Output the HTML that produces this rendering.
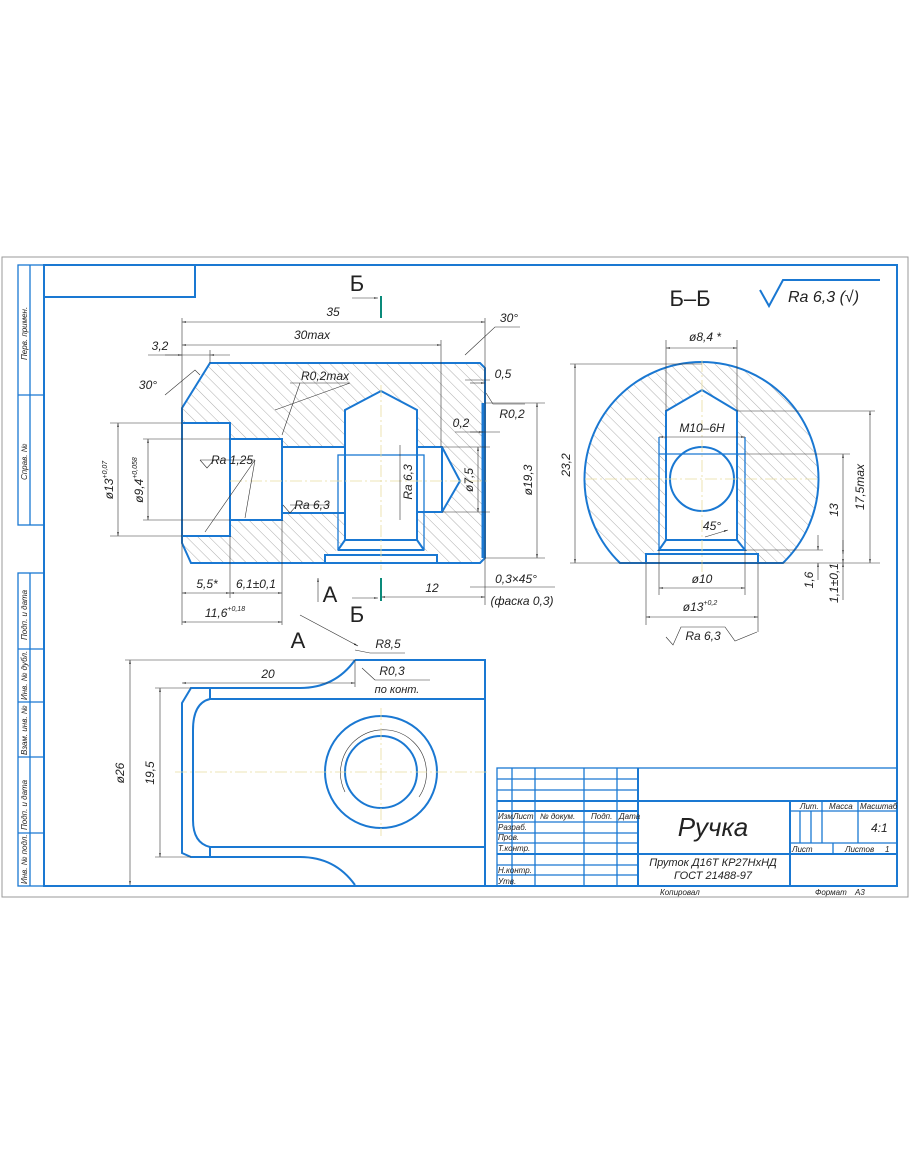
<!DOCTYPE html>
<html><head><meta charset="utf-8"><style>
html,body{margin:0;padding:0;background:#fff}
svg{display:block}
text{font-family:"Liberation Sans",sans-serif;font-style:italic;fill:#222}
.b{stroke:#1a78d2;stroke-width:2;fill:none}
.bt{stroke:#1a78d2;stroke-width:1.3;fill:none}
.t{stroke:#333;stroke-width:.6;fill:none}
.c{stroke:#e8dca0;stroke-width:.8;stroke-dasharray:12 3 2 3;fill:none}
</style></head><body>
<svg width="910" height="1155" viewBox="0 0 910 1155" xmlns="http://www.w3.org/2000/svg">
<defs>
<pattern id="h" width="8" height="8" patternUnits="userSpaceOnUse" patternTransform="rotate(-45)">
<line x1="0" y1="0" x2="0" y2="8" stroke="#777" stroke-width=".6"/></pattern>
<marker id="a" viewBox="0 0 10 10" refX="10" refY="5" markerWidth="7" markerHeight="7" orient="auto-start-reverse"><path d="M0,3 L10,5 L0,7z" fill="#222"/></marker>
</defs>
<!-- sheet -->
<rect x="2" y="257" width="906" height="640" fill="none" stroke="#999" stroke-width="1"/>
<rect x="44" y="265" width="853" height="621" class="b"/>
<polyline points="44,297 195,297 195,265" class="b"/>
<!-- left strip -->
<rect x="18" y="265" width="26" height="260" class="bt"/>
<line x1="30" y1="265" x2="30" y2="525" class="bt"/><line x1="18" y1="395" x2="44" y2="395" class="bt"/>
<rect x="18" y="573" width="26" height="313" class="bt"/>
<line x1="30" y1="573" x2="30" y2="886" class="bt"/>
<line x1="18" y1="649" x2="44" y2="649" class="bt"/><line x1="18" y1="702" x2="44" y2="702" class="bt"/>
<line x1="18" y1="757" x2="44" y2="757" class="bt"/><line x1="18" y1="833" x2="44" y2="833" class="bt"/>
<g font-size="8">
<text transform="translate(27,360) rotate(-90)">Перв. примен.</text>
<text transform="translate(27,480) rotate(-90)">Справ. №</text>
<text transform="translate(27,640) rotate(-90)">Подп. и дата</text>
<text transform="translate(27,700) rotate(-90)">Инв. № дубл.</text>
<text transform="translate(27,755) rotate(-90)">Взам. инв. №</text>
<text transform="translate(27,830) rotate(-90)">Подп. и дата</text>
<text transform="translate(27,884) rotate(-90)">Инв. № подл.</text>
</g>

<!-- MAIN VIEW -->
<path fill-rule="evenodd" fill="url(#h)" d="M210,363 L480,363 L485,368 L485,558 L480,563 L191,563 L182,543 L182,408 Z M182,423 L230,423 L230,439 L282,439 L282,447 L345,447 L345,410 L381,391 L417,410 L417,447 L442,447 L460,481 L442,512 L417,512 L417,540 L424,550 L437,555 L437,563 L325,563 L325,555 L338,550 L345,540 L345,513 L282,513 L282,520 L230,520 L230,536 L182,536 Z"/>
<path class="b" d="M210,363 L480,363 L485,368 L485,558 L480,563 L191,563 L182,543 L182,408 Z"/>
<line x1="483" y1="403" x2="483" y2="558" stroke="#1a78d2" stroke-width="3"/>
<path class="b" d="M182,423 L230,423 L230,536 L182,536 M230,439 L282,439 L282,520 L230,520 M282,447 L345,447 M282,513 L345,513 M345,540 L345,410 L381,391 L417,410 L417,540 M345,540 L417,540 M338,550 L424,550 M345,540 L338,550 M417,540 L424,550 M325,563 L325,555 L437,555 L437,563 M417,447 L442,447 L460,481 L442,512 L417,512 M442,447 L442,512"/>
<rect x="338" y="455" width="86" height="95" class="bt"/>
<line x1="230" y1="481" x2="490" y2="481" class="c"/><line x1="381" y1="385" x2="381" y2="570" class="c"/>
<!-- dims main -->
<g class="t">
<line x1="182" y1="318" x2="182" y2="625"/><line x1="485" y1="318" x2="485" y2="605"/>
<line x1="182" y1="322" x2="485" y2="322" marker-start="url(#a)" marker-end="url(#a)"/>
<line x1="441" y1="340" x2="441" y2="447"/>
<line x1="182" y1="345" x2="441" y2="345" marker-start="url(#a)" marker-end="url(#a)"/>
<line x1="210" y1="350" x2="210" y2="363"/>
<line x1="148" y1="355" x2="210" y2="355"/>
<line x1="165" y1="355" x2="182" y2="355" marker-end="url(#a)"/><line x1="230" y1="355" x2="210" y2="355" marker-end="url(#a)"/>
<path d="M165,395 L195,370 L200,375"/>
<line x1="110" y1="423" x2="182" y2="423"/><line x1="110" y1="536" x2="182" y2="536"/>
<line x1="118" y1="423" x2="118" y2="536" marker-start="url(#a)" marker-end="url(#a)"/>
<line x1="143" y1="439" x2="230" y2="439"/><line x1="143" y1="520" x2="230" y2="520"/>
<line x1="148" y1="439" x2="148" y2="520" marker-start="url(#a)" marker-end="url(#a)"/>
<line x1="230" y1="536" x2="230" y2="598"/><line x1="282" y1="520" x2="282" y2="625"/>
<line x1="182" y1="593" x2="230" y2="593" marker-start="url(#a)" marker-end="url(#a)"/>
<line x1="230" y1="593" x2="282" y2="593" marker-start="url(#a)" marker-end="url(#a)"/>
<line x1="182" y1="622" x2="282" y2="622" marker-start="url(#a)" marker-end="url(#a)"/>
<line x1="381" y1="597" x2="485" y2="597" marker-start="url(#a)" marker-end="url(#a)"/>
<line x1="485" y1="403" x2="545" y2="403"/><line x1="485" y1="558" x2="545" y2="558"/>
<line x1="537" y1="403" x2="537" y2="558" marker-start="url(#a)" marker-end="url(#a)"/>
<line x1="442" y1="447" x2="490" y2="447"/><line x1="442" y1="512" x2="490" y2="512"/>
<line x1="478" y1="447" x2="478" y2="512" marker-start="url(#a)" marker-end="url(#a)"/>
<line x1="465" y1="380" x2="490" y2="380"/><line x1="470" y1="383" x2="485" y2="383" marker-end="url(#a)"/>
<line x1="455" y1="432" x2="500" y2="432"/><line x1="470" y1="432" x2="483" y2="432" marker-end="url(#a)"/>
<path d="M465,355 L495,327 L520,327"/>
<path d="M525,404 L493,404 L486,393" />
<path d="M470,587 L490,587 L555,587"/>
<path d="M290,383 L350,383 M350,383 L275,410 M300,383 L282,435"/>
<path d="M200,460 L255,460 M255,460 L205,532 M255,460 L245,518"/>
<path d="M290,505 L330,505"/><path d="M400,520 L400,445"/>
</g>
<g font-size="12" text-anchor="middle">
<text x="333" y="316">35</text><text x="312" y="339">30max</text>
<text x="160" y="350">3,2</text><text x="148" y="389">30°</text>
<text x="509" y="322">30°</text><text x="503" y="378">0,5</text>
<text x="512" y="418">R0,2</text><text x="461" y="427">0,2</text>
<text x="325" y="380">R0,2max</text>
<text x="232" y="464">Ra 1,25</text><text x="312" y="509">Ra 6,3</text>
<text x="207" y="588">5,5*</text><text x="256" y="588">6,1±0,1</text>
<text x="225" y="617">11,6<tspan font-size="7" dy="-6">+0,18</tspan></text>
<text x="432" y="592">12</text>
<text x="516" y="583">0,3×45°</text><text x="522" y="605">(фаска 0,3)</text>
<text transform="translate(113,480) rotate(-90)">ø13<tspan font-size="7" dy="-6">+0,07</tspan></text>
<text transform="translate(143,480) rotate(-90)">ø9,4<tspan font-size="7" dy="-6">+0,058</tspan></text>
<text transform="translate(473,480) rotate(-90)">ø7,5</text>
<text transform="translate(532,480) rotate(-90)">ø19,3</text>
<text transform="translate(412,482) rotate(-90)">Ra 6,3</text>
</g>
<path d="M200,460 L207,468 L214,460" class="t"/><path d="M283,505 L290,513 L297,505" class="t"/>
<!-- section marks -->
<line x1="381" y1="296" x2="381" y2="318" stroke="#0a8a7a" stroke-width="2"/>
<line x1="352" y1="298" x2="378" y2="298" class="t" marker-end="url(#a)"/>
<line x1="381" y1="578" x2="381" y2="601" stroke="#0a8a7a" stroke-width="2"/>
<line x1="352" y1="598" x2="378" y2="598" class="t" marker-end="url(#a)"/>
<line x1="318" y1="602" x2="318" y2="578" class="t" marker-end="url(#a)"/>
<g font-size="22" font-style="normal" text-anchor="middle">
<text x="357" y="291" style="font-style:normal">Б</text><text x="357" y="622" style="font-style:normal">Б</text>
<text x="330" y="602" style="font-style:normal">А</text><text x="298" y="648" style="font-style:normal">А</text>
<text x="690" y="306" style="font-style:normal">Б–Б</text>
</g>
<!-- Ra header -->
<path d="M760,290 L769,306 L783,280 L880,280" class="b"/>
<text x="788" y="302" font-size="16">Ra 6,3 (√)</text>

<!-- SECTION B-B -->
<path fill-rule="evenodd" fill="url(#h)" d="M620,563 A117,117 0 1 1 783,563 Z M646,563 L646,554 L659,550 L666,540 L666,411 L702,390 L737,411 L737,540 L745,550 L758,554 L758,563 Z"/>
<path class="b" d="M620,563 A117,117 0 1 1 783,563 Z"/>
<path class="b" d="M646,563 L646,554 L758,554 L758,563 M659,550 L666,540 L666,411 L702,390 L737,411 L737,540 L745,550 Z M666,540 L737,540"/>
<path class="bt" d="M659,437 L659,550 M745,437 L745,550 M659,454 L745,454"/>
<circle cx="702" cy="479" r="32" class="b" fill="#fff"/>
<line x1="585" y1="479" x2="820" y2="479" class="c"/><line x1="702" y1="360" x2="702" y2="575" class="c"/>
<g class="t">
<line x1="666" y1="340" x2="666" y2="411"/><line x1="737" y1="340" x2="737" y2="411"/>
<line x1="666" y1="348" x2="737" y2="348" marker-start="url(#a)" marker-end="url(#a)"/>
<line x1="570" y1="364" x2="702" y2="364"/><line x1="570" y1="563" x2="880" y2="563"/>
<line x1="575" y1="364" x2="575" y2="563" marker-start="url(#a)" marker-end="url(#a)"/>
<line x1="659" y1="437" x2="745" y2="437" marker-start="url(#a)" marker-end="url(#a)"/>
<line x1="745" y1="454" x2="850" y2="454"/><line x1="843" y1="454" x2="843" y2="563" marker-start="url(#a)" marker-end="url(#a)"/>
<line x1="737" y1="411" x2="875" y2="411"/><line x1="870" y1="411" x2="870" y2="563" marker-start="url(#a)" marker-end="url(#a)"/>
<line x1="745" y1="550" x2="823" y2="550"/>
<line x1="818" y1="535" x2="818" y2="550" marker-end="url(#a)"/><line x1="818" y1="580" x2="818" y2="563" marker-end="url(#a)"/>
<line x1="843" y1="540" x2="843" y2="554" marker-end="url(#a)"/><line x1="843" y1="600" x2="843" y2="563" marker-end="url(#a)"/>
<line x1="659" y1="550" x2="659" y2="595"/><line x1="745" y1="550" x2="745" y2="595"/>
<line x1="659" y1="588" x2="745" y2="588" marker-start="url(#a)" marker-end="url(#a)"/>
<line x1="646" y1="563" x2="646" y2="625"/><line x1="758" y1="563" x2="758" y2="632"/>
<line x1="646" y1="617" x2="758" y2="617" marker-start="url(#a)" marker-end="url(#a)"/>
<path d="M666,637 L673,645 L681,627 L725,627 L735,641 L757,632"/>
<path d="M705,537 Q718,533 728,530" marker-end="url(#a)"/>
</g>
<g font-size="12" text-anchor="middle">
<text x="705" y="341">ø8,4 *</text><text x="702" y="432">M10–6H</text>
<text x="712" y="530">45°</text><text x="702" y="583">ø10</text>
<text x="700" y="611">ø13<tspan font-size="7" dy="-6">+0,2</tspan></text>
<text x="703" y="640">Ra 6,3</text>
<text transform="translate(570,465) rotate(-90)">23,2</text>
<text transform="translate(838,510) rotate(-90)">13</text>
<text transform="translate(864,487) rotate(-90)">17,5max</text>
<text transform="translate(813,580) rotate(-90)">1,6</text>
<text transform="translate(838,583) rotate(-90)">1,1±0,1</text>
</g>

<!-- VIEW A -->
<path class="b" d="M355,660 L485,660 L485,885 M355,660 Q335,688 300,688 L191,688 L182,703 L182,853 L191,857 L300,857 Q335,857 355,885 M210,688 L210,699 L485,699 M210,857 L210,847 L485,847 M210,699 Q193,703 193,730 L193,820 Q193,843 210,847"/>
<circle cx="381" cy="772" r="56" class="b"/><circle cx="381" cy="772" r="36" class="b"/>
<path d="M345,792 A43,43 0 1 1 419,797" class="t" stroke="#777"/>
<line x1="175" y1="772" x2="490" y2="772" class="c"/><line x1="381" y1="708" x2="381" y2="836" class="c"/>
<g class="t">
<line x1="125" y1="660" x2="355" y2="660"/><line x1="130" y1="660" x2="130" y2="885" marker-start="url(#a)" marker-end="url(#a)"/>
<line x1="155" y1="688" x2="191" y2="688"/><line x1="155" y1="857" x2="191" y2="857"/>
<line x1="160" y1="688" x2="160" y2="857" marker-start="url(#a)" marker-end="url(#a)"/>
<line x1="182" y1="683" x2="355" y2="683" marker-start="url(#a)" marker-end="url(#a)"/>
<line x1="355" y1="660" x2="355" y2="687"/>
<path d="M300,615 L358,646"  marker-end="url(#a)"/><path d="M355,650 L370,653 L405,653"/>
<path d="M375,680 L362,668" /><path d="M375,680 L430,680"/>
</g>
<g font-size="12" text-anchor="middle">
<text x="388" y="648">R8,5</text><text x="392" y="675">R0,3</text>
<text x="397" y="693" font-size="11">по конт.</text><text x="268" y="678">20</text>
<text transform="translate(124,773) rotate(-90)">ø26</text>
<text transform="translate(154,773) rotate(-90)">19,5</text>
</g>

<!-- TITLE BLOCK -->
<g class="bt">
<rect x="497" y="768" width="400" height="118"/>
<line x1="512" y1="768" x2="512" y2="886"/><line x1="535" y1="768" x2="535" y2="886"/>
<line x1="584" y1="768" x2="584" y2="886"/><line x1="617" y1="768" x2="617" y2="886"/>
<line x1="638" y1="768" x2="638" y2="886" stroke-width="2"/>
<line x1="497" y1="779" x2="638" y2="779"/><line x1="497" y1="790" x2="638" y2="790"/>
<line x1="497" y1="801" x2="897" y2="801" stroke-width="2"/>
<line x1="497" y1="811" x2="638" y2="811" stroke-width="2"/>
<line x1="497" y1="822" x2="638" y2="822"/><line x1="497" y1="833" x2="638" y2="833"/>
<line x1="497" y1="843" x2="638" y2="843"/><line x1="497" y1="854" x2="897" y2="854" stroke-width="2"/>
<line x1="497" y1="865" x2="638" y2="865"/><line x1="497" y1="875" x2="638" y2="875"/>
<line x1="790" y1="801" x2="790" y2="886" stroke-width="2"/>
<line x1="790" y1="811" x2="897" y2="811"/><line x1="790" y1="843" x2="897" y2="843"/>
<line x1="822" y1="801" x2="822" y2="843"/><line x1="858" y1="801" x2="858" y2="843"/>
<line x1="800" y1="811" x2="800" y2="843"/><line x1="811" y1="811" x2="811" y2="843"/>
<line x1="833" y1="843" x2="833" y2="854"/>
</g>
<g font-size="8">
<text x="498" y="819">Изм.</text><text x="513" y="819">Лист</text><text x="540" y="819">№ докум.</text>
<text x="591" y="819">Подп.</text><text x="619" y="819">Дата</text>
<text x="498" y="830">Разраб.</text><text x="498" y="840">Пров.</text><text x="498" y="851">Т.контр.</text>
<text x="498" y="873">Н.контр.</text><text x="498" y="884">Утв.</text>
<text x="800" y="809">Лит.</text><text x="829" y="809">Масса</text><text x="860" y="809">Масштаб</text>
<text x="792" y="852">Лист</text><text x="845" y="852">Листов</text><text x="885" y="852">1</text>
<text x="660" y="895">Копировал</text><text x="815" y="895">Формат</text><text x="855" y="895">А3</text>
</g>
<text x="871" y="832" font-size="12">4:1</text>
<text x="713" y="836" font-size="26" text-anchor="middle">Ручка</text>
<text x="713" y="866" font-size="11" text-anchor="middle">Пруток Д16Т КР27НхНД</text>
<text x="713" y="879" font-size="11" text-anchor="middle">ГОСТ 21488-97</text>
</svg>
</body></html>
